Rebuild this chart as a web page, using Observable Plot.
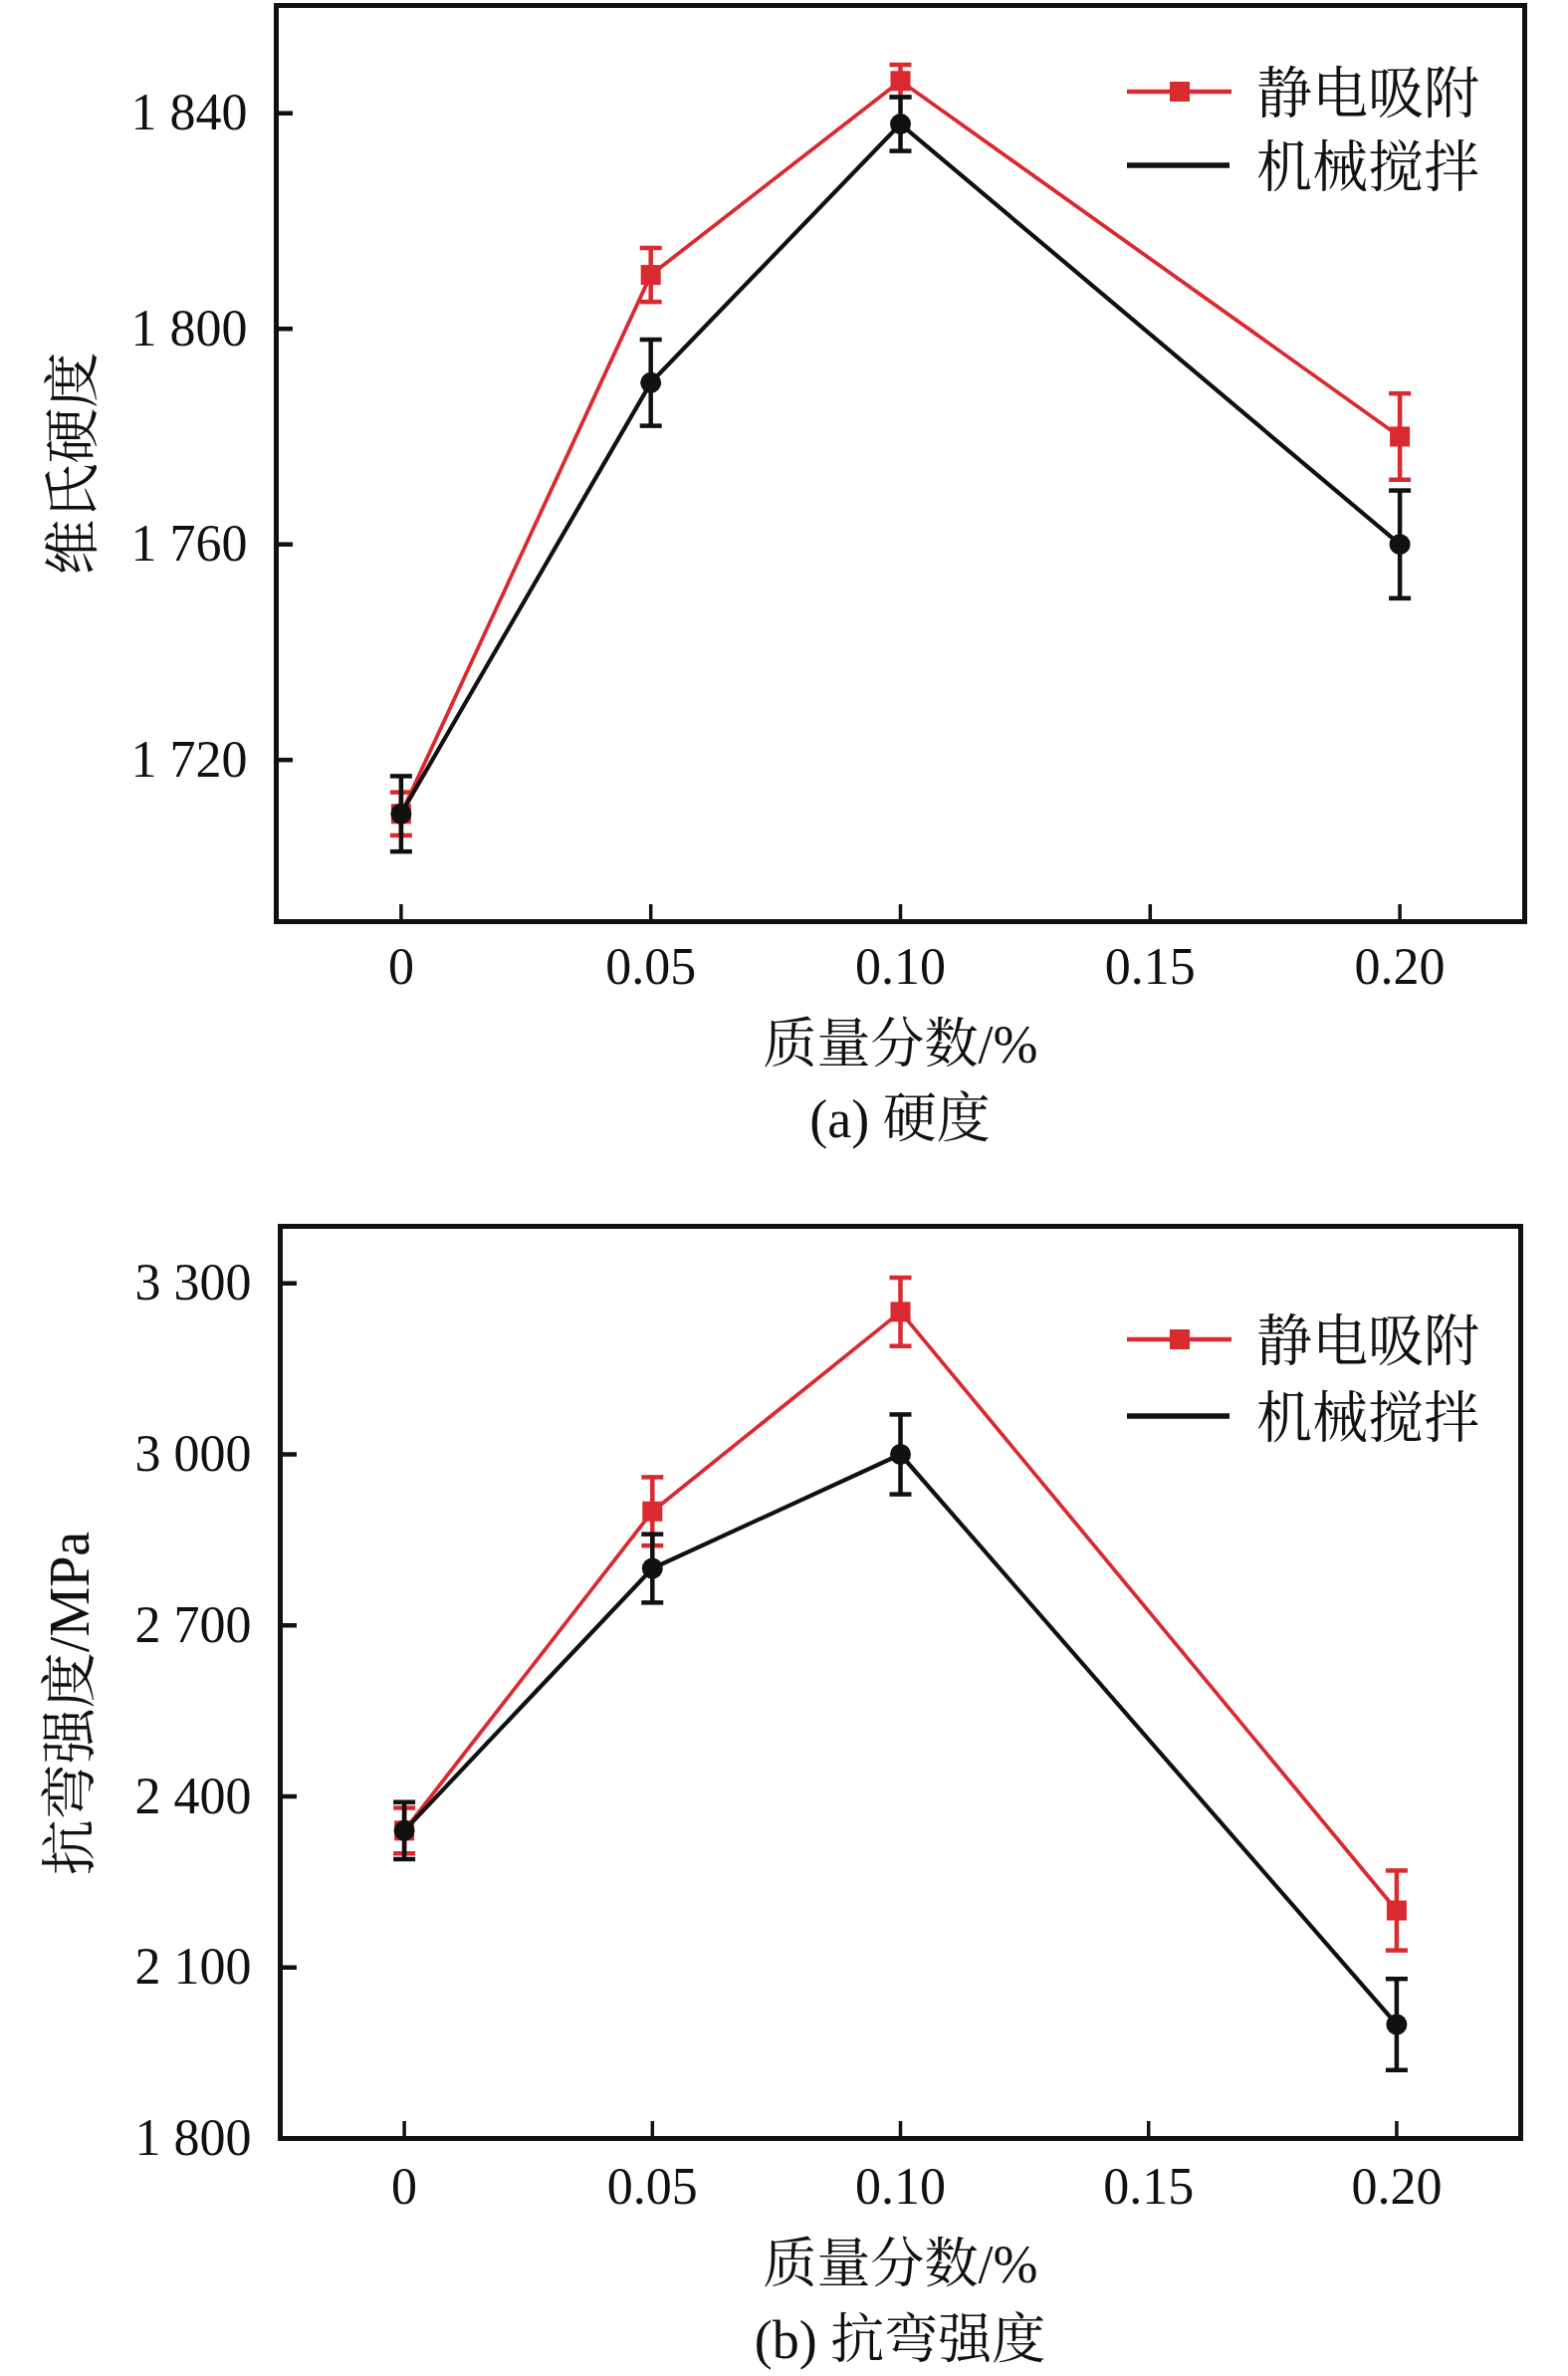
<!DOCTYPE html>
<html><head><meta charset="utf-8">
<script src="https://cdn.jsdelivr.net/npm/d3@7"></script>
<script src="https://cdn.jsdelivr.net/npm/@observablehq/plot@0.6"></script>
<style>
body{margin:0;background:#fff;}
.wrap{position:relative;width:1575px;}
.overlay{position:absolute;left:0;top:0;pointer-events:none;}
.cap{line-height:75px;font-family:'Liberation Serif','Noto Serif CJK SC','Noto Sans CJK SC',serif;font-size:54px;color:#111;text-align:center;box-sizing:border-box;white-space:nowrap;overflow:visible;}
</style></head><body><div id="root"></div>
<script>
// ---- data ----
const fractions = [0, 0.05, 0.10, 0.20];
const xTicks = [0, 0.05, 0.10, 0.15, 0.20];
const seriesNames = ["静电吸附", "机械搅拌"];

const hardnessES = [1710, 1810, 1846, 1780];
const hardnessESErr = [4, 5, 3, 8];
const hardnessMS = [1710, 1790, 1838, 1760];
const hardnessMSErr = [7, 8, 5, 10];
const hardnessTicks = [1720, 1760, 1800, 1840];

const flexES = [2340, 2900, 3250, 2200];
const flexESErr = [40, 60, 60, 70];
const flexMS = [2340, 2800, 3000, 2000];
const flexMSErr = [50, 60, 70, 80];
const flexTicks = [1800, 2100, 2400, 2700, 3000, 3300];

const xLabel = "质量分数/%";
const captions = ["(a) 硬度", "(b) 抗弯强度"];
const yLabels = ["维氏硬度", "抗弯强度/MPa"];

// ---- style ----
const RED = "#d92b2f", BLACK = "#111111";
const FONT = "'Liberation Serif','Noto Serif CJK SC','Noto Sans CJK SC',serif";
const cap = {draw(ctx, size) { const w = Math.sqrt(size / Math.PI); ctx.moveTo(-w, 0); ctx.lineTo(w, 0); }};

const fmtY = d => d3.format(",")(d).replace(/,/g, " ");
const fmtX = d => d === 0 ? "0" : d.toFixed(2);

function rows(vals, errs, name) {
  return fractions.map((f, i) => ({x: f, y: vals[i], lo: vals[i] - errs[i], hi: vals[i] + errs[i], s: name}));
}

function chart(o) {
  const es = rows(o.es, o.esErr, seriesNames[0]);
  const ms = rows(o.ms, o.msErr, seriesNames[1]);
  const plot = Plot.plot({
    width: 1575, height: o.h,
    marginTop: o.mt, marginBottom: o.mb, marginLeft: o.ml, marginRight: o.mr,
    style: {fontFamily: FONT, fontSize: "52px", color: BLACK, background: "#fff", overflow: "visible"},
    x: {domain: [-0.025, 0.225]},
    y: {domain: o.yDomain},
    marks: [
      Plot.axisX({ticks: xTicks, tickSize: -17, tickPadding: o.xPad, strokeWidth: 3.5, tickFormat: fmtX, label: null}),
      Plot.axisY({ticks: o.yTicks, tickSize: -17, tickPadding: 46, strokeWidth: 4.5, tickFormat: fmtY, label: null}),
      // red series
      Plot.line(es, {x: "x", y: "y", stroke: RED, strokeWidth: 3.8}),
      Plot.ruleX(es, {x: "x", y1: "lo", y2: "hi", stroke: RED, strokeWidth: 4.5}),
      Plot.dot(es, {x: "x", y: "lo", symbol: cap, r: 11, stroke: RED, strokeWidth: 4.5, fill: "none"}),
      Plot.dot(es, {x: "x", y: "hi", symbol: cap, r: 11, stroke: RED, strokeWidth: 4.5, fill: "none"}),
      Plot.dot(es, {x: "x", y: "y", symbol: "square", r: 11.3, fill: RED, stroke: "none"}),
      // black series
      Plot.line(ms, {x: "x", y: "y", stroke: BLACK, strokeWidth: 4.2}),
      Plot.ruleX(ms, {x: "x", y1: "lo", y2: "hi", stroke: BLACK, strokeWidth: 4.5}),
      Plot.dot(ms, {x: "x", y: "lo", symbol: cap, r: 11, stroke: BLACK, strokeWidth: 4.5, fill: "none"}),
      Plot.dot(ms, {x: "x", y: "hi", symbol: cap, r: 11, stroke: BLACK, strokeWidth: 4.5, fill: "none"}),
      Plot.dot(ms, {x: "x", y: "y", symbol: "circle", r: 10.5, fill: BLACK, stroke: "none"}),
      // labels
      Plot.text([o.yLabel], {frameAnchor: "left", text: d => d, rotate: -90, textAnchor: "middle", lineAnchor: "top", dx: o.labelDx, dy: o.labelDy, fontSize: 56, fill: BLACK}),
      Plot.text([xLabel], {frameAnchor: "bottom", text: d => d, textAnchor: "middle", lineAnchor: "bottom", dy: o.xLabelDy, fontSize: 54, fill: BLACK}),
      Plot.frame({stroke: BLACK, strokeWidth: 5})
    ]
  });
  const wrap = document.createElement("div");
  wrap.className = "wrap";
  wrap.style.height = o.h + "px";
  wrap.appendChild(plot);
  // legend overlay
  const svg = d3.create("svg").attr("class", "overlay").attr("width", 1575).attr("height", o.h);
  const g = svg.append("g").attr("font-family", FONT).attr("font-size", 56).attr("fill", BLACK);
  const [y1, y2] = o.legY;
  g.append("line").attr("x1", 1132).attr("x2", 1237).attr("y1", y1).attr("y2", y1).attr("stroke", RED).attr("stroke-width", 4.5);
  g.append("rect").attr("x", 1175).attr("y", y1 - 10).attr("width", 20).attr("height", 20).attr("fill", RED);
  g.append("text").attr("x", 1262).attr("y", y1 + 21).text(seriesNames[0]);
  g.append("line").attr("x1", 1132).attr("x2", 1235).attr("y1", y2).attr("y2", y2).attr("stroke", BLACK).attr("stroke-width", 5.5);
  g.append("text").attr("x", 1262).attr("y", y2 + 21).text(seriesNames[1]);
  wrap.appendChild(svg.node());
  return wrap;
}

function caption(text, pl, pr, pt, h) {
  const d = document.createElement("div");
  d.className = "cap";
  d.style.paddingLeft = pl + "px";
  d.style.paddingRight = pr + "px";
  d.style.paddingTop = pt + "px";
  d.style.height = h + "px";
  d.textContent = text;
  return d;
}

const root = document.getElementById("root");
root.appendChild(chart({
  es: hardnessES, esErr: hardnessESErr, ms: hardnessMS, msErr: hardnessMSErr,
  yDomain: [1690, 1860], yTicks: hardnessTicks, yLabel: yLabels[0],
  h: 1080, mt: 5, mb: 155, ml: 277, mr: 44, xPad: 43,
  labelDx: -225, labelDy: 0, xLabelDy: 141, legY: [92, 166]
}));
root.appendChild(caption(captions[0], 277, 44, 7, 82));
root.appendChild(chart({
  es: flexES, esErr: flexESErr, ms: flexMS, msErr: flexMSErr,
  yDomain: [1800, 3400], yTicks: flexTicks, yLabel: yLabels[1],
  h: 1148, mt: 69, mb: 163, ml: 281, mr: 48, xPad: 46,
  labelDx: -232, labelDy: 21, xLabelDy: 144, legY: [183, 260]
}));
root.appendChild(caption(captions[1], 281, 48, 3, 76));
</script></body></html>
